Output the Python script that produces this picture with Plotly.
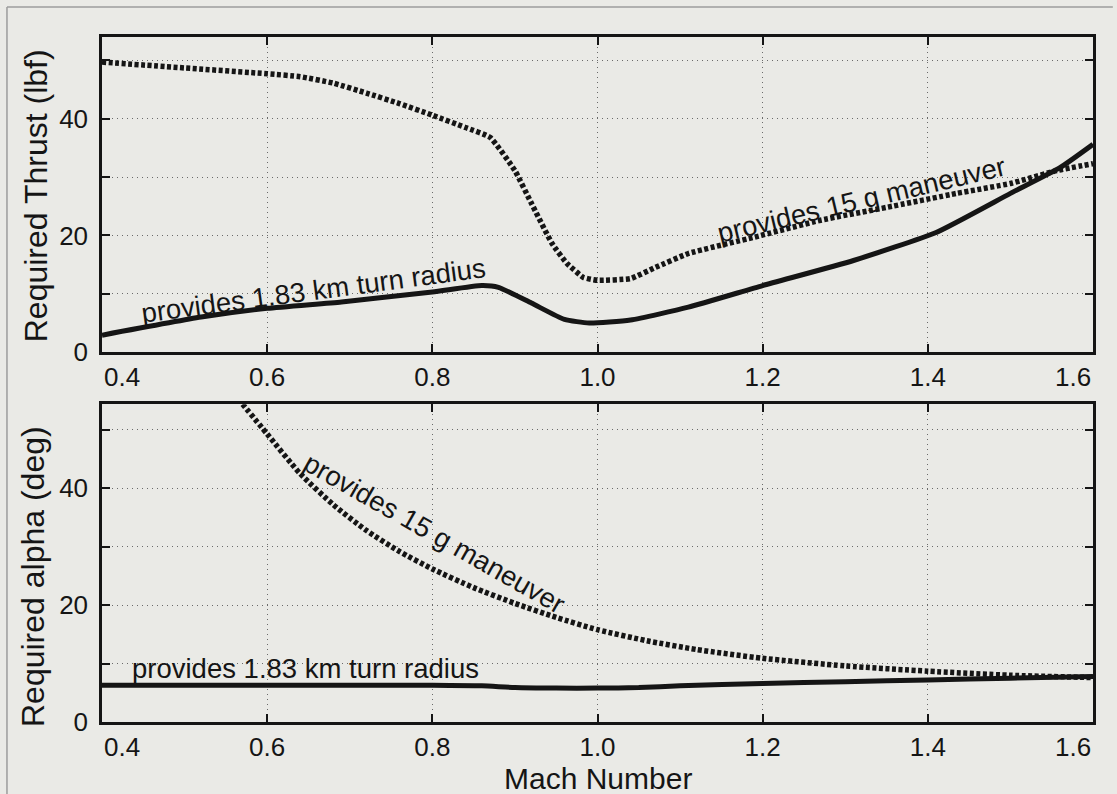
import plotly.graph_objects as go

# ---------------- data ----------------
# Top panel: Required Thrust (lbf) vs Mach
thrust_turn_mach = [0.40, 0.52, 0.60, 0.69, 0.80, 0.86, 0.88, 0.92, 0.96, 0.99, 1.04, 1.11, 1.20, 1.31, 1.41, 1.50, 1.56, 1.60]
thrust_turn_val = [2.9, 6.0, 7.5, 8.6, 10.3, 11.4, 11.1, 8.4, 5.6, 5.0, 5.5, 7.7, 11.4, 15.7, 20.5, 27.2, 31.6, 35.6]

thrust_15g_mach = [0.40, 0.50, 0.60, 0.64, 0.68, 0.72, 0.76, 0.80, 0.84, 0.87, 0.90, 0.92, 0.945, 0.963, 0.983, 1.00, 1.04, 1.07, 1.11, 1.19, 1.27, 1.35, 1.435, 1.50, 1.556, 1.60]
thrust_15g_val = [49.7, 48.7, 47.7, 47.2, 46.1, 44.4, 42.6, 40.6, 38.5, 36.8, 31.1, 25.5, 18.6, 15.2, 12.8, 12.3, 12.6, 14.5, 16.9, 19.7, 22.6, 24.8, 27.2, 28.9, 31.1, 32.3]

# Bottom panel: Required alpha (deg) vs Mach
alpha_turn_mach = [0.40, 0.60, 0.80, 0.86, 0.90, 0.95, 1.00, 1.05, 1.10, 1.20, 1.30, 1.40, 1.50, 1.60]
alpha_turn_val = [6.3, 6.3, 6.3, 6.2, 5.9, 5.8, 5.8, 5.9, 6.2, 6.6, 6.9, 7.2, 7.5, 7.8]

alpha_15g_mach = [0.565, 0.60, 0.64, 0.68, 0.72, 0.76, 0.80, 0.85, 0.90, 0.95, 1.00, 1.06, 1.12, 1.20, 1.30, 1.40, 1.50, 1.60]
alpha_15g_val = [55.3, 49.3, 42.5, 37.2, 32.8, 29.2, 26.2, 23.0, 20.3, 17.9, 15.8, 13.9, 12.4, 10.9, 9.6, 8.7, 8.0, 7.6]

x_ticks = [0.4, 0.6, 0.8, 1.0, 1.2, 1.4, 1.6]
x_ticktext = ["0.4", "0.6", "0.8", "1.0", "1.2", "1.4", "1.6"]
y_ticks = [0, 10, 20, 30, 40, 50]
y_ticktext = ["0", "", "20", "", "40", ""]

label_turn = "provides 1.83 km turn radius"
label_15g = "provides 15 g maneuver"
title_thrust = "Required Thrust (lbf)"
title_alpha = "Required alpha (deg)"
title_mach = "Mach Number"

# ---------------- style ----------------
BG = "#eaeae6"
INK = "#151515"
FONT = "Liberation Sans, Arial, Helvetica, sans-serif"
DASH = "4px,2.5px"
TICK_SIZE = 26

fig = go.Figure()

fig.add_trace(go.Scatter(x=thrust_15g_mach, y=thrust_15g_val, mode="lines",
                         line=dict(color=INK, width=5.5, dash=DASH, shape="spline", smoothing=0.4),
                         xaxis="x", yaxis="y", showlegend=False))
fig.add_trace(go.Scatter(x=thrust_turn_mach, y=thrust_turn_val, mode="lines",
                         line=dict(color=INK, width=5, shape="spline", smoothing=0.5),
                         xaxis="x", yaxis="y", showlegend=False))
fig.add_trace(go.Scatter(x=alpha_15g_mach, y=alpha_15g_val, mode="lines",
                         line=dict(color=INK, width=5.5, dash=DASH, shape="spline", smoothing=0.6),
                         xaxis="x2", yaxis="y2", showlegend=False))
fig.add_trace(go.Scatter(x=alpha_turn_mach, y=alpha_turn_val, mode="lines",
                         line=dict(color=INK, width=5, shape="spline", smoothing=0.6),
                         xaxis="x2", yaxis="y2", showlegend=False))

# inner tick labels shown natively; the two end labels are drawn inset (as in the original)
inner_text = [t if 0 < i < len(x_ticktext) - 1 else "" for i, t in enumerate(x_ticktext)]

common_x = dict(range=[0.4, 1.6], tickmode="array", tickvals=x_ticks, ticktext=inner_text,
                showline=True, linecolor=INK, linewidth=2.5, mirror="ticks",
                ticks="inside", ticklen=8, tickwidth=1.5, tickcolor=INK,
                showgrid=True, gridcolor="#6a6a6a", gridwidth=1, griddash="1px,4px",
                zeroline=False, tickfont=dict(size=TICK_SIZE, color=INK, family=FONT),
                ticklabelstandoff=0)
common_y = dict(tickmode="array", tickvals=y_ticks, ticktext=y_ticktext,
                showline=True, linecolor=INK, linewidth=2.5, mirror="ticks",
                ticks="inside", ticklen=8, tickwidth=1.5, tickcolor=INK,
                showgrid=True, gridcolor="#6a6a6a", gridwidth=1, griddash="1px,4px",
                zeroline=False, tickfont=dict(size=TICK_SIZE, color=INK, family=FONT),
                ticklabelstandoff=6)

fig.update_layout(
    width=1117, height=794,
    margin=dict(l=102, r=24, t=37, b=72, pad=0),
    paper_bgcolor=BG, plot_bgcolor=BG,
    font=dict(family=FONT, color=INK),
    xaxis=dict(domain=[0, 1], anchor="y", **common_x),
    yaxis=dict(domain=[0.540, 1.0], anchor="x", range=[0, 54], **common_y),
    xaxis2=dict(domain=[0, 1], anchor="y2", **common_x),
    yaxis2=dict(domain=[0.0, 0.464], anchor="x2", range=[0, 54.4], **common_y),
)

# end tick labels (inset like the original)
for xa, ya, ypos in (("x", "y", 0.540), ("x2", "y2", 0.0)):
    fig.add_annotation(x=x_ticks[0], y=ypos, xref=xa, yref="paper", text=x_ticktext[0],
                       showarrow=False, xanchor="center", yanchor="top", xshift=20, yshift=-8,
                       font=dict(size=TICK_SIZE, color=INK, family=FONT))
    fig.add_annotation(x=x_ticks[-1], y=ypos, xref=xa, yref="paper", text=x_ticktext[-1],
                       showarrow=False, xanchor="center", yanchor="top", xshift=-20, yshift=-8,
                       font=dict(size=TICK_SIZE, color=INK, family=FONT))

# axis titles
title_font = dict(size=32, family=FONT, color=INK)
fig.add_annotation(x=-0.0666, y=0.769, xref="paper", yref="paper", text=title_thrust, textangle=-90,
                   showarrow=False, xanchor="center", yanchor="middle", font=title_font)
fig.add_annotation(x=-0.0696, y=0.2117, xref="paper", yref="paper", text=title_alpha, textangle=-90,
                   showarrow=False, xanchor="center", yanchor="middle", font=title_font)
fig.add_annotation(x=0.5, y=-0.0818, xref="paper", yref="paper", text=title_mach,
                   showarrow=False, xanchor="center", yanchor="middle",
                   font=dict(size=30, family=FONT, color=INK))

ann_font = dict(size=27.5, family=FONT, color=INK)
fig.add_annotation(x=0.656, y=10.5, xref="x", yref="y", text=label_turn, showarrow=False,
                   textangle=-7.6, font=ann_font)
fig.add_annotation(x=1.320, y=26.1, xref="x", yref="y", text=label_15g, showarrow=False,
                   textangle=-13.3, font=ann_font)
fig.add_annotation(x=0.803, y=32.3, xref="x2", yref="y2", text=label_15g, showarrow=False,
                   textangle=29.6, font=ann_font)
fig.add_annotation(x=0.646, y=9.2, xref="x2", yref="y2", text=label_turn, showarrow=False,
                   textangle=0, font=ann_font)

# outer page frame (left and top edges)
fig.add_shape(type="line", xref="paper", yref="paper", x0=-0.0959, x1=-0.0959, y0=-0.11, y1=1.0438,
              line=dict(color="#9c9c9c", width=1.5))
fig.add_shape(type="line", xref="paper", yref="paper", x0=-0.0959, x1=1.02, y0=1.0438, y1=1.0438,
              line=dict(color="#9c9c9c", width=1.5))

fig.write_html("out.html")
